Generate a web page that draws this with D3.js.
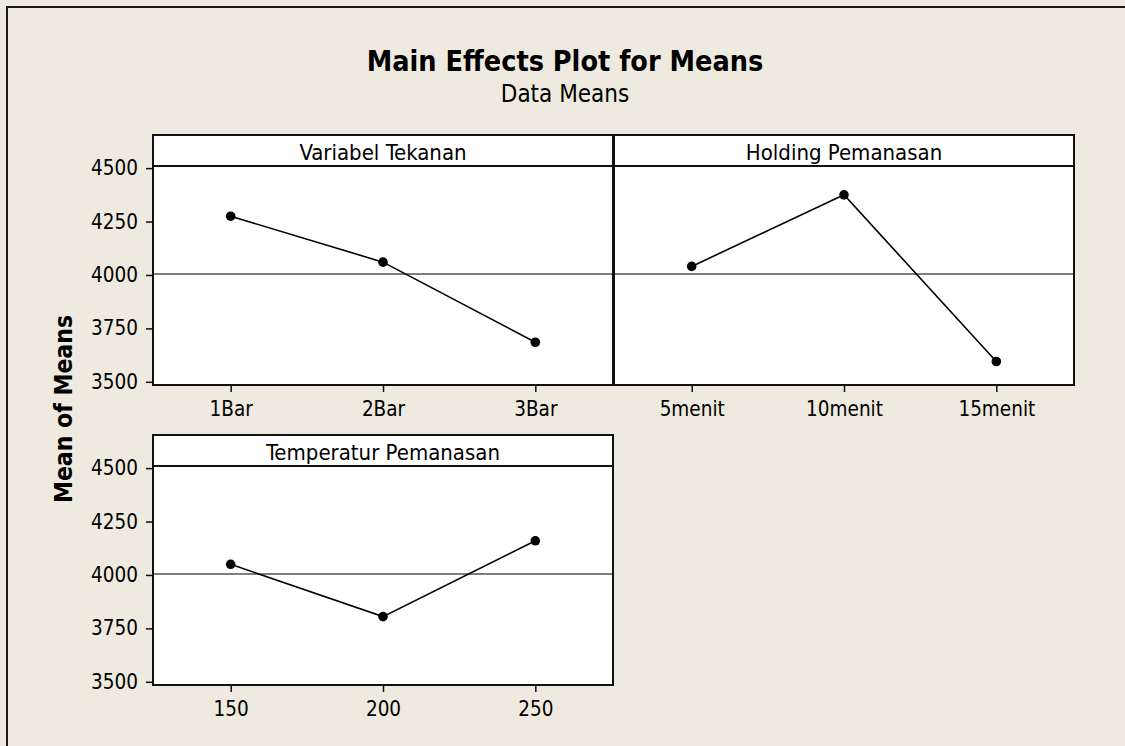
<!DOCTYPE html>
<html>
<head>
<meta charset="utf-8">
<script src="https://cdn.jsdelivr.net/npm/d3@7"></script>
<style>
  html, body { margin: 0; padding: 0; background: #eeeadf; }
  svg { display: block; font-family: 'DejaVu Sans Condensed', 'Liberation Sans', sans-serif; }
</style>
</head>
<body>
<div id="chart"></div>
<script>
// Data
const factors = ['Variabel Tekanan', 'Holding Pemanasan', 'Temperatur Pemanasan'];
const levels = [
  ['1Bar', '2Bar', '3Bar'],
  ['5menit', '10menit', '15menit'],
  ['150', '200', '250']
];
const means = [
  [4275, 4060, 3685],
  [4040, 4375, 3595],
  [4050, 3805, 4160]
];
const grandMean = 4004;
const yTicks = [3500, 3750, 4000, 4250, 4500];

const width = 1125, height = 746;
const panelW = 460, panelH = 250, stripH = 31;
// column / row origins of the panel grid
const cols = [153, 614], rows = [135, 435];

const svg = d3.select('#chart').append('svg')
  .attr('width', width)
  .attr('height', height);

svg.append('rect')
  .attr('width', width).attr('height', height)
  .attr('fill', '#eeeadf');

// outer frame (right and bottom run off the picture)
svg.append('rect')
  .attr('x', 7).attr('y', 7)
  .attr('width', width + 20).attr('height', height + 20)
  .attr('fill', 'none')
  .attr('stroke', '#1a1a1a')
  .attr('stroke-width', 2);

svg.append('text')
  .attr('x', 565).attr('y', 71)
  .attr('text-anchor', 'middle')
  .attr('font-weight', 'bold')
  .attr('font-size', 28.5)
  .text('Main Effects Plot for Means');

svg.append('text')
  .attr('x', 565).attr('y', 102)
  .attr('text-anchor', 'middle')
  .attr('font-size', 24)
  .text('Data Means');

svg.append('text')
  .attr('transform', 'translate(72,409) rotate(-90)')
  .attr('text-anchor', 'middle')
  .attr('font-weight', 'bold')
  .attr('font-size', 24.5)
  .text('Mean of Means');

const y = d3.scaleLinear().domain([3485, 4655]).range([panelH, 0]);
const x = d3.scaleLinear().domain([0.49, 3.51]).range([0, panelW]);

factors.forEach((name, i) => {
  const col = i % 2, row = Math.floor(i / 2);
  const g = svg.append('g')
    .attr('transform', `translate(${cols[col]},${rows[row]})`);

  g.append('rect')
    .attr('width', panelW).attr('height', panelH)
    .attr('fill', '#fff');

  // reference line at the overall mean
  g.append('line')
    .attr('x1', 0).attr('x2', panelW)
    .attr('y1', y(grandMean)).attr('y2', y(grandMean))
    .attr('stroke', '#555')
    .attr('stroke-width', 1.5);

  const pts = means[i].map((v, k) => [x(k + 1), y(v)]);
  g.append('path')
    .attr('d', d3.line()(pts))
    .attr('fill', 'none')
    .attr('stroke', '#000')
    .attr('stroke-width', 1.6);

  g.selectAll('circle')
    .data(pts)
    .join('circle')
    .attr('cx', d => d[0]).attr('cy', d => d[1])
    .attr('r', 4.8)
    .attr('fill', '#000');

  // strip with factor name
  g.append('rect')
    .attr('width', panelW).attr('height', stripH)
    .attr('fill', '#fff');
  g.append('line')
    .attr('x1', 0).attr('x2', panelW)
    .attr('y1', stripH).attr('y2', stripH)
    .attr('stroke', '#111')
    .attr('stroke-width', 2);
  g.append('text')
    .attr('x', panelW / 2).attr('y', 25)
    .attr('text-anchor', 'middle')
    .attr('font-size', 22)
    .text(name);

  g.append('rect')
    .attr('width', panelW).attr('height', panelH)
    .attr('fill', 'none')
    .attr('stroke', '#111')
    .attr('stroke-width', 2);

  // x axis: level labels
  const xAxis = g.append('g')
    .attr('transform', `translate(0,${panelH})`)
    .call(d3.axisBottom(x)
      .tickValues([1, 2, 3])
      .tickFormat(d => levels[i][d - 1])
      .tickSize(7).tickPadding(9));
  xAxis.select('.domain').remove();

  // y axis only on the left column
  if (col === 0) {
    const yAxis = g.append('g')
      .call(d3.axisLeft(y).tickValues(yTicks).tickFormat(d3.format('d'))
        .tickSize(7).tickPadding(8));
    yAxis.select('.domain').remove();
  }
});

svg.selectAll('.tick line').attr('stroke', '#111').attr('stroke-width', 1.5);
svg.selectAll('.tick text')
  .attr('font-size', 20.5)
  .attr('fill', '#000');
svg.selectAll('g').attr('font-family', null).attr('font-size', null);
</script>
</body>
</html>
